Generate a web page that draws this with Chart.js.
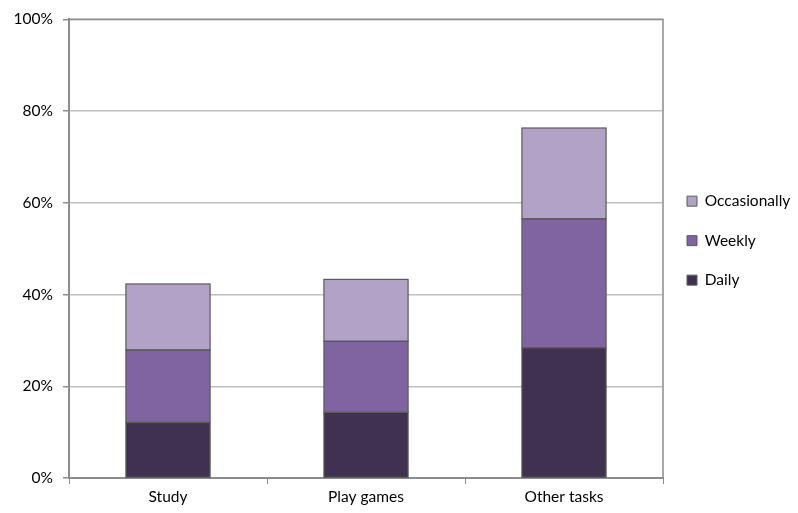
<!DOCTYPE html>
<html>
<head>
<meta charset="utf-8">
<script src="https://cdn.jsdelivr.net/npm/chart.js@4"></script>
<style>
  html, body { margin: 0; padding: 0; background: #fff; }
  #wrap { width: 798px; height: 513px; }
</style>
</head>
<body>
<div id="wrap"><canvas id="usageChart" width="798" height="513"></canvas></div>
<script>
  const categories = ['Study', 'Play games', 'Other tasks'];
  const daily = [12.1, 14.3, 28.4];
  const weekly = [15.8, 15.5, 28.1];
  const occasionally = [14.4, 13.5, 19.8];
  const yTicks = [0, 20, 40, 60, 80, 100];

  // box around the plot area, crisp outlines on the bar segments,
  // and the legend nudged a little upward
  const plotBorder = {
    id: 'plotBorder',
    afterLayout(chart) {
      chart.legend.top -= 8;
      chart.legend.bottom -= 8;
    },
    afterDatasetsDraw(chart) {
      const ctx = chart.ctx;
      ctx.save();
      ctx.strokeStyle = '#5a5a5a';
      ctx.lineWidth = 1.2;
      chart.data.datasets.forEach((ds, i) => {
        chart.getDatasetMeta(i).data.forEach(el => {
          const { x, y, base, width } = el.getProps(['x', 'y', 'base', 'width'], true);
          ctx.strokeRect(x - width / 2, y, width, base - y);
        });
      });
      ctx.restore();
    },
    afterDraw(chart) {
      const { ctx, chartArea: a } = chart;
      ctx.save();
      ctx.strokeStyle = '#8c8c8c';
      ctx.lineWidth = 1.5;
      ctx.beginPath();
      ctx.moveTo(a.left, a.top);
      ctx.lineTo(a.right, a.top);
      ctx.lineTo(a.right, a.bottom);
      ctx.stroke();
      ctx.restore();
    }
  };

  const ctx = document.getElementById('usageChart').getContext('2d');
  Chart.defaults.font.family = 'Lato, "Open Sans", sans-serif';
  Chart.defaults.font.size = 15.5;
  Chart.defaults.color = '#000';

  const bar = { borderColor: '#5a5a5a', borderWidth: 0, barPercentage: 0.425, categoryPercentage: 1 };

  new Chart(ctx, {
    type: 'bar',
    data: {
      labels: categories,
      datasets: [
        Object.assign({ label: 'Daily', data: daily, backgroundColor: '#403151' }, bar),
        Object.assign({ label: 'Weekly', data: weekly, backgroundColor: '#8064a2' }, bar),
        Object.assign({ label: 'Occasionally', data: occasionally, backgroundColor: '#b3a2c7' }, bar)
      ]
    },
    options: {
      responsive: false,
      animation: false,
      layout: { padding: { top: 8, right: 0, bottom: 0, left: 0 } },
      plugins: {
        legend: {
          position: 'right',
          fullSize: false,
          reverse: true,
          maxWidth: 135,
          labels: { boxWidth: 10, boxHeight: 10, padding: 24, font: { size: 15.5 }, useBorderRadius: false,
            generateLabels(chart) {
              const items = Chart.defaults.plugins.legend.labels.generateLabels(chart);
              items.forEach(it => { it.lineWidth = 1; it.strokeStyle = '#5a5a5a'; });
              return items;
            }
          }
        },
        tooltip: { enabled: false }
      },
      scales: {
        x: {
          stacked: true,
          grid: { offset: true, drawOnChartArea: false, drawTicks: true, tickLength: 6, tickColor: '#8c8c8c' },
          border: { color: '#8c8c8c', width: 2 },
          ticks: { padding: 4 },
          afterFit(scale) { scale.height = 35; }
        },
        y: {
          stacked: true,
          min: 0,
          max: 100,
          afterBuildTicks(scale) { scale.ticks = yTicks.map(v => ({ value: v })); },
          ticks: { callback: v => v + '%', padding: 10 },
          grid: { color: '#c0c0c0', lineWidth: 1.5, tickLength: 6, tickColor: '#8c8c8c' },
          border: { color: '#8c8c8c', width: 2 },
          afterFit(scale) { scale.width = 69; }
        }
      }
    },
    plugins: [plotBorder]
  });
</script>
</body>
</html>
